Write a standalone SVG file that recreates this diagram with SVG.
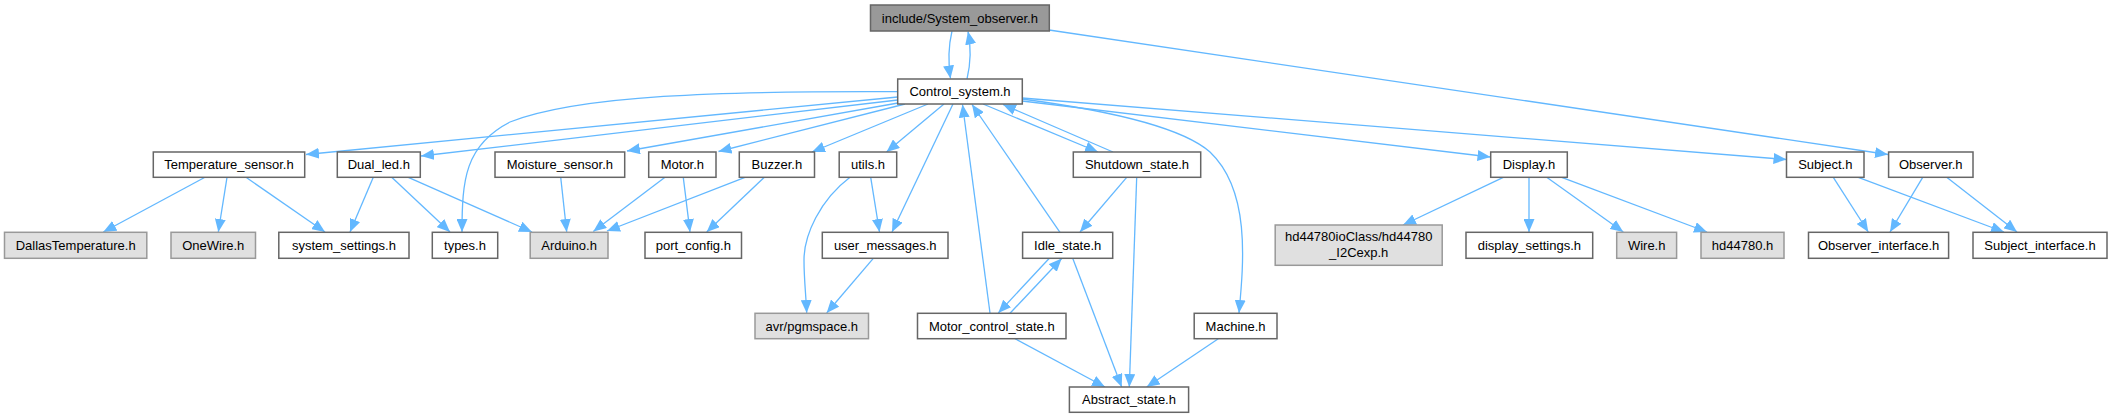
<svg xmlns="http://www.w3.org/2000/svg" width="2112" height="417" viewBox="0 0 2112 417">
<style>
.n rect{fill:#ffffff;stroke:#666666;stroke-width:1.5}
.x rect{fill:#e0e0e0;stroke:#999999;stroke-width:1.5}
.r rect{fill:#999999;stroke:#666666;stroke-width:1.5}
text{font-family:"Liberation Sans",Arial,sans-serif;font-size:13px;fill:#000000;text-anchor:middle}
#edges path{fill:none;stroke:#63b8ff;stroke-width:1.3;marker-end:url(#ah)}
</style>
<defs>
<marker id="ah" markerUnits="userSpaceOnUse" markerWidth="13" markerHeight="11" refX="13" refY="5.5" orient="auto">
<path d="M0,0 L13,5.5 L0,11 Z" fill="#63b8ff"/>
</marker>
</defs>
<rect width="2112" height="417" fill="#ffffff"/>
<g id="edges">
<path d="M952,31 C948,48 948,62 950.5,78.5"/>
<path d="M967,79 C971,62 971,46 968,31.5"/>
<path d="M1049,30 L1888,154.5"/>
<path d="M897.7,97 L306,154.5"/>
<path d="M897.7,100 L421,156"/>
<path d="M898,103 L627,151"/>
<path d="M905,104 L718.5,151.5"/>
<path d="M928,104 L812,152"/>
<path d="M944,104 L886.5,152"/>
<path d="M897.7,91.7 C720,91 580,95 510,122 C465,145 462,180 462,232"/>
<path d="M953,104 L892,232"/>
<path d="M983,104 L1098,152"/>
<path d="M1113,152 L1003,104.5"/>
<path d="M1060,232.3 L972,104.5"/>
<path d="M990,313 L962.5,104.5"/>
<path d="M1022,99 C1120,112 1185,130 1210,152 C1250,190 1244,260 1239,313"/>
<path d="M1022,101 L1490.5,157"/>
<path d="M1022,98 L1786.5,159.5"/>
<path d="M205,177.3 L103.3,232"/>
<path d="M227,177.3 L218.3,232"/>
<path d="M246,177.3 L325,232"/>
<path d="M373.3,177.3 L350,232"/>
<path d="M391.7,177.3 L450,232"/>
<path d="M408.3,177.3 L532,232"/>
<path d="M560.7,177.3 L566.7,232"/>
<path d="M665,177.3 L593.3,231.5"/>
<path d="M745,177.3 L607,231"/>
<path d="M683.3,177.3 L690,232"/>
<path d="M764.3,177.3 L706.7,232"/>
<path d="M850,177.3 C820,200 804,235 804,260 C804,280 806,295 806.7,313"/>
<path d="M870.7,177.3 L879.5,232"/>
<path d="M873.3,258.3 L826.7,313"/>
<path d="M1126.7,177.3 L1080,232"/>
<path d="M1136.7,177.3 L1129.3,387"/>
<path d="M1049.3,258.3 L998.3,313"/>
<path d="M1010,313.3 L1061.7,258.5"/>
<path d="M1072.7,258.3 L1121.7,387"/>
<path d="M1015,338.7 L1105,387"/>
<path d="M1218.3,338.7 L1146.7,387"/>
<path d="M1503.3,177.3 L1403,225"/>
<path d="M1529,177.3 L1529,232"/>
<path d="M1546.7,177.3 L1623.3,232"/>
<path d="M1561.7,177.3 L1707,232"/>
<path d="M1833.3,177.3 L1868.3,232"/>
<path d="M1922.7,177.3 L1890,232"/>
<path d="M1858.3,177.3 L2004,232"/>
<path d="M1946.7,177.3 L2017,232"/>
</g>
<g id="n_system_observer" class="r"><rect x="870.5" y="5" width="178.8" height="26"/><text x="959.9" y="22.6">include/System_observer.h</text></g>
<g id="n_control_system" class="n"><rect x="897.7" y="79" width="124.6" height="25"/><text x="960" y="96.1">Control_system.h</text></g>
<g id="n_temperature_sensor" class="n"><rect x="153.3" y="152" width="151.4" height="25.3"/><text x="229" y="169.2">Temperature_sensor.h</text></g>
<g id="n_dual_led" class="n"><rect x="337.3" y="152" width="83" height="25.3"/><text x="378.8" y="169.2">Dual_led.h</text></g>
<g id="n_moisture_sensor" class="n"><rect x="495" y="152" width="129.7" height="25.3"/><text x="559.9" y="169.2">Moisture_sensor.h</text></g>
<g id="n_motor" class="n"><rect x="648.7" y="152" width="67.3" height="25.3"/><text x="682.4" y="169.2">Motor.h</text></g>
<g id="n_buzzer" class="n"><rect x="739.3" y="152" width="75.2" height="25.3"/><text x="776.9" y="169.2">Buzzer.h</text></g>
<g id="n_utils" class="n"><rect x="839.2" y="152" width="57.5" height="25.3"/><text x="868" y="169.2">utils.h</text></g>
<g id="n_shutdown_state" class="n"><rect x="1073.3" y="152" width="127.4" height="25.3"/><text x="1137" y="169.2">Shutdown_state.h</text></g>
<g id="n_display" class="n"><rect x="1490.7" y="152" width="76.6" height="25.3"/><text x="1529" y="169.2">Display.h</text></g>
<g id="n_subject" class="n"><rect x="1786.5" y="152" width="77.5" height="25.3"/><text x="1825.3" y="169.2">Subject.h</text></g>
<g id="n_observer" class="n"><rect x="1888.6" y="152" width="84.4" height="25.3"/><text x="1930.8" y="169.2">Observer.h</text></g>
<g id="n_dallastemperature" class="x"><rect x="4.5" y="232.3" width="142.3" height="26"/><text x="75.7" y="249.8">DallasTemperature.h</text></g>
<g id="n_onewire" class="x"><rect x="171" y="232.3" width="84.5" height="26"/><text x="213.3" y="249.8">OneWire.h</text></g>
<g id="n_system_settings" class="n"><rect x="278.8" y="232.3" width="130.2" height="26"/><text x="343.9" y="249.8">system_settings.h</text></g>
<g id="n_types" class="n"><rect x="432.3" y="232.3" width="65.4" height="26"/><text x="465" y="249.8">types.h</text></g>
<g id="n_arduino" class="x"><rect x="530.2" y="232.3" width="77.8" height="26"/><text x="569.1" y="249.8">Arduino.h</text></g>
<g id="n_port_config" class="n"><rect x="645" y="232.3" width="96.5" height="26"/><text x="693.3" y="249.8">port_config.h</text></g>
<g id="n_user_messages" class="n"><rect x="822.3" y="232.3" width="125.7" height="26"/><text x="885.2" y="249.8">user_messages.h</text></g>
<g id="n_idle_state" class="n"><rect x="1022.6" y="232.3" width="90.1" height="26"/><text x="1067.7" y="249.8">Idle_state.h</text></g>
<g id="n_hd44780_i2cexp" class="x"><rect x="1275.2" y="225" width="167" height="40.3"/><text x="1358.7" y="241">hd44780ioClass/hd44780</text><text x="1358.7" y="257">_I2Cexp.h</text></g>
<g id="n_display_settings" class="n"><rect x="1466" y="232.3" width="126.7" height="26"/><text x="1529.4" y="249.8">display_settings.h</text></g>
<g id="n_wire" class="x"><rect x="1616.7" y="232.3" width="59.9" height="26"/><text x="1646.7" y="249.8">Wire.h</text></g>
<g id="n_hd44780" class="x"><rect x="1701" y="232.3" width="83" height="26"/><text x="1742.5" y="249.8">hd44780.h</text></g>
<g id="n_observer_interface" class="n"><rect x="1808.5" y="232.3" width="140.1" height="26"/><text x="1878.6" y="249.8">Observer_interface.h</text></g>
<g id="n_subject_interface" class="n"><rect x="1973" y="232.3" width="134" height="26"/><text x="2040" y="249.8">Subject_interface.h</text></g>
<g id="n_pgmspace" class="x"><rect x="755" y="313.3" width="113.5" height="25.4"/><text x="811.8" y="330.6">avr/pgmspace.h</text></g>
<g id="n_motor_control_state" class="n"><rect x="917.5" y="313.3" width="148.5" height="25.4"/><text x="991.8" y="330.6">Motor_control_state.h</text></g>
<g id="n_machine" class="n"><rect x="1194.2" y="313.3" width="82.8" height="25.4"/><text x="1235.6" y="330.6">Machine.h</text></g>
<g id="n_abstract_state" class="n"><rect x="1069.4" y="387" width="119.2" height="25.3"/><text x="1129" y="404.2">Abstract_state.h</text></g>
</svg>
